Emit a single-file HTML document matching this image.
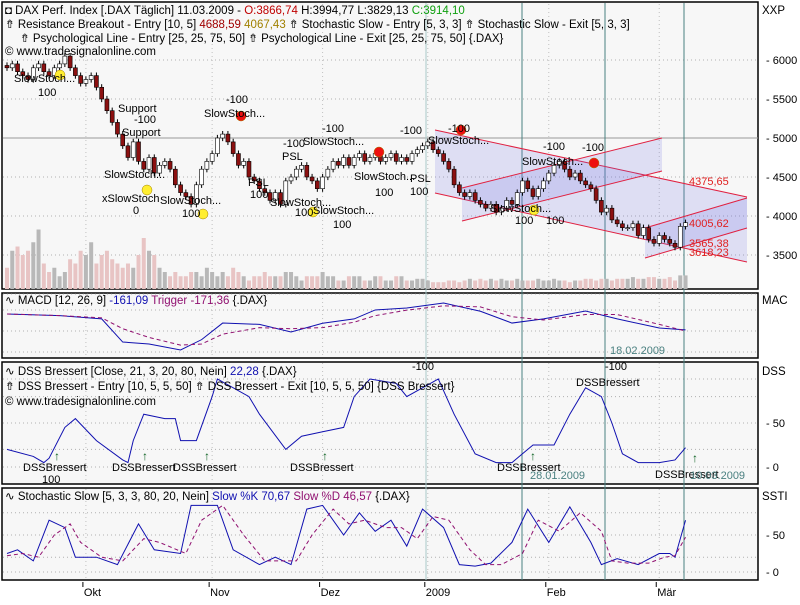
<!DOCTYPE html>
<html><head><meta charset="utf-8">
<style>
body{margin:0;background:#fff;font-family:"Liberation Sans",sans-serif;}
svg text{font-family:"Liberation Sans",sans-serif;}
</style></head>
<body>
<svg id="chart" width="800" height="600" viewBox="0 0 800 600" xmlns="http://www.w3.org/2000/svg">
<rect x="0" y="0" width="800" height="600" fill="#ffffff"/>
<g id="panels"></g>
<g id="content"></g>
</svg>
<script>
// ---- data ----
const closes=[5900,5950,5850,5800,5750,5900,5950,5850,5800,5900,5950,6050,5900,5800,5700,5750,5800,5650,5500,5350,
5200,5050,4900,4750,4950,4700,4600,4750,4550,4650,4700,4600,4400,4300,4250,4150,4400,4600,4700,4800,
5000,5050,4950,4800,4650,4700,4500,4450,4350,4300,4200,4300,4150,4450,4500,4600,4650,4500,4450,4350,
4500,4600,4700,4650,4750,4650,4750,4800,4700,4750,4800,4700,4750,4800,4700,4750,4700,4800,4850,4900,
4950,4850,4800,4700,4600,4400,4300,4250,4300,4200,4150,4100,4150,4050,4100,4200,4150,4300,4450,4350,
4250,4350,4450,4550,4650,4700,4600,4500,4550,4450,4400,4350,4200,4050,4100,3950,3900,3850,3850,3900,
3750,3850,3700,3650,3750,3700,3650,3600,3867,3914];
const volumes=[25,45,50,40,45,55,70,30,20,25,15,20,35,30,45,40,55,30,40,45,
35,30,25,30,25,40,60,45,40,25,20,15,20,15,15,20,20,15,25,20,
15,20,15,25,20,15,10,15,15,20,15,15,15,20,20,15,10,15,15,15,
20,15,15,10,10,15,15,15,10,10,15,15,10,10,15,15,10,10,12,12,
10,8,8,8,10,10,8,10,12,10,12,10,12,10,12,10,10,12,10,10,
10,12,10,10,12,10,10,8,10,10,12,12,10,12,12,10,12,12,12,14,
12,12,14,14,12,12,14,10,16,16];
const monthLabels=["Okt","Nov","Dez","2009","Feb","Mär"];
const monthDays=[15,39,60,80,103,124];
const priceTicks=[6000,5500,5000,4500,4000,3500];
const macdDays=[0,10,18,22,27,33,37,41,48,54,60,66,70,76,83,90,96,102,110,116,124,129];
const macdVals=[-15,-30,-60,-272,-290,-345,-250,-98,-110,-180,-100,-60,22,40,86,10,-98,-60,12,-60,-143,-161];
const macdVals2=[-15,-30,-50,-150,-230,-300,-290,-200,-140,-150,-140,-90,-30,20,60,50,-40,-70,-20,-20,-110,-171];
const dssDays=[0,5,7,8,11,13,17,22,23,24,26,30,32,33,36,39,40,46,48,53,56,60,64,66,69,74,76,79,82,85,89,93,96,98,100,104,107,110,113,115,117,120,122,124,127,129];
const dssVals=[20,12,5,10,45,55,30,8,5,30,60,55,55,30,30,80,100,80,60,20,35,40,45,80,100,95,80,90,100,60,15,5,5,15,25,25,60,90,80,50,15,5,5,5,8,22];
const sKDays=[0,2,5,8,11,13,17,21,25,28,33,35,40,43,48,51,54,57,60,64,67,70,73,76,79,83,86,89,92,96,99,103,107,111,113,116,120,124,126,127,129];
const sKVals=[25,30,15,70,60,20,20,10,65,30,25,90,90,30,10,20,10,85,90,50,80,55,70,35,85,60,10,8,12,40,85,40,88,40,10,18,10,25,25,20,70];
const sDDays=[0,3,6,9,12,14,18,22,26,29,34,37,41,45,49,52,55,58,62,65,68,72,75,78,81,84,88,91,94,98,101,105,109,113,115,118,122,125,127,129];
const sDVals=[22,25,20,50,65,40,20,15,45,40,25,70,90,50,15,15,15,50,85,65,70,60,60,45,75,70,30,10,10,25,70,55,80,55,15,12,12,20,22,47];

const NS="http://www.w3.org/2000/svg";
const cont=document.getElementById('content'), pan=document.getElementById('panels');
function mk(tag,attrs,parent,txt){const e=document.createElementNS(NS,tag);for(const k in attrs)e.setAttribute(k,attrs[k]);if(txt!==undefined)e.textContent=txt;(parent||cont).appendChild(e);return e;}
const X0=5,DX=5.26,R=758;
const xd=d=>X0+d*DX+2;
const yP=p=>138+(5000-p)*0.078;
const yV=v=>289-v*0.85;
const yM=v=>296+(150-v)*60/550;
const yD=v=>467-v*0.88;
const yS=v=>572-v*0.74;

const panelDefs=[[2,2,289,'price-panel'],[2,293,358,'macd-panel'],[2,362,484,'dss-panel'],[2,488,580,'stoch-panel']];
panelDefs.forEach(p=>{const r=mk('rect',{x:p[0],y:p[1],width:R-p[0],height:p[2]-p[1],fill:'#f7f7f7',stroke:'#000','stroke-width':1.5},pan);
});
function hgrid(y){mk('line',{x1:3,x2:R,y1:y,y2:y,stroke:'#b0b0b0','stroke-dasharray':'1,3'},pan);}
priceTicks.forEach(t=>{hgrid(yP(t));const tx=mk('text',{x:766,y:yP(t)+4,'font-size':11},cont,'- '+t);
});
mk('line',{x1:3,x2:R,y1:yP(5000),y2:yP(5000),stroke:'#999'},pan);
hgrid(yP(3500)+39);
[310,331,352].forEach(hgrid);
[0,50].forEach(v=>{const tx=mk('text',{x:766,y:yD(v)+4,'font-size':11},cont,'- '+v);});
[0,20,50,80,100].forEach(v=>hgrid(yD(v)));
[0,50].forEach(v=>{const tx=mk('text',{x:766,y:yS(v)+4,'font-size':11},cont,'- '+v);});
[0,20,50,80].forEach(v=>hgrid(yS(v)));
monthDays.forEach((d,i)=>{[[4,288],[294,357],[363,483],[489,579]].forEach(r=>mk('line',{x1:xd(d),x2:xd(d),y1:r[0],y2:r[1],stroke:'#c0c0c0','stroke-dasharray':'1,3'},pan));
mk('line',{x1:xd(d)-3,x2:xd(d)-3,y1:582,y2:587,stroke:'#000'});
const t=mk('text',{x:xd(d)-2,y:596,'font-size':11},cont,monthLabels[i]);});
[[426,'#a8c8c8'],[522,'#4a8080'],[605,'#4a8080'],[684,'#4a8080']].forEach(v=>{mk('line',{x1:v[0],x2:v[0],y1:3,y2:580,stroke:v[1]},pan);});

const chan=[[[435,130],[747,197],[747,262],[435,193]],[[462,188],[662,138],[662,171],[462,221]],[[645,228],[747,198],[747,228],[645,258]]];
chan.forEach(c=>{const pg=mk('polygon',{points:c.map(p=>p.join(',')).join(' '),fill:'rgba(110,110,230,0.18)'});
mk('line',{x1:c[0][0],y1:c[0][1],x2:c[1][0],y2:c[1][1],stroke:'#e02040'});mk('line',{x1:c[3][0],y1:c[3][1],x2:c[2][0],y2:c[2][1],stroke:'#e02040'});});
[['4375,65',689,185],['4005,62',689,227],['3565,38',689,247],['3618,23',689,256]].forEach(l=>{const t=mk('text',{x:l[1],y:l[2],'font-size':11,fill:'#e02020'},cont,l[0]);});

volumes.forEach((v,i)=>{const up=i>0&&closes[i]>=closes[i-1];const r=mk('rect',{x:xd(i)-2,y:yV(v),width:4,height:289-yV(v),fill:up?'#b8b8b8':'#e8c4c4'});
});
closes.forEach((c,i)=>{const o=i>0?closes[i-1]:c+30;const hi=Math.max(o,c)+40,lo=Math.min(o,c)-40;const x=xd(i);
mk('line',{x1:x,x2:x,y1:yP(hi),y2:yP(lo),stroke:'#000'});
const top=yP(Math.max(o,c)),h=Math.max(1,Math.abs(yP(o)-yP(c)));
const r=mk('rect',{x:x-2,y:top,width:4,height:h,fill:c>=o?'#fff':'#8b1010',stroke:'#000','stroke-width':0.6});
});

function poly(days,vals,yf,attrs,name){const pts=days.map((d,i)=>xd(d)+','+yf(vals[i])).join(' ');const p=mk('polyline',Object.assign({points:pts,fill:'none'},attrs));}
poly(macdDays,macdVals,yM,{stroke:'#1010b0','stroke-width':1},'macd-line');
poly(macdDays,macdVals2,yM,{stroke:'#901070','stroke-dasharray':'4,3'},'macd-trigger-line');
poly(dssDays,dssVals,yD,{stroke:'#1010b0'},'dss-line');
poly(sKDays,sKVals,yS,{stroke:'#1010b0'},'stoch-k-line');
poly(sDDays,sDVals,yS,{stroke:'#901070','stroke-dasharray':'4,3'},'stoch-d-line');

const ann=[[60,75,'#ffee30'],[147,190,'#ffee30'],[203,214,'#ffee30'],[241,116,'#ee1010'],[313,212,'#ffee30'],[379,152,'#ee1010'],[461,130,'#ee1010'],[534,210,'#ffee30'],[594,163,'#ee1010']];
ann.forEach(a=>{const c=mk('circle',{cx:a[0],cy:a[1],r:5,fill:a[2],stroke:'#a08000','stroke-width':0.5});});
const txt=[[14,82,'SlowStoch...'],[38,96,'100'],[118,112,'Support'],[134,123,'-100'],[122,136,'Support'],[104,178,'SlowStoch...'],[102,202,'xSlowStoch'],[133,214,'0'],[160,204,'SlowStoch...'],[182,217,'100'],[226,103,'-100'],[204,117,'SlowStoch...'],[248,186,'PSL'],[250,198,'100'],[283,147,'-100'],[282,160,'PSL'],[270,206,'SlowStoch...'],[295,216,'100'],[313,214,'SlowStoch...'],[333,228,'100'],[322,132,'-100'],[303,145,'SlowStoch...'],[354,180,'SlowStoch...'],[375,196,'100'],[400,134,'-100'],[410,182,'PSL'],[410,195,'100'],[448,132,'-100'],[428,144,'SlowStoch...'],[490,212,'SlowStoch...'],[515,224,'100'],[543,150,'-100'],[522,165,'SlowStoch...'],[582,151,'-100'],[546,224,'100']];
txt.forEach(t=>{const e=mk('text',{x:t[0],y:t[1],'font-size':11},cont,t[2]);});
const dtxt=[[23,471,'DSSBressert'],[42,483,'100'],[112,471,'DSSBressert'],[173,471,'DSSBressert'],[290,471,'DSSBressert'],[497,471,'DSSBressert'],[412,370,'-100'],[605,370,'-100'],[576,386,'DSSBressert'],[655,478,'DSSBressert']];
dtxt.forEach(t=>{const e=mk('text',{x:t[0],y:t[1],'font-size':11},cont,t[2]);});
[['28.01.2009',530,479],['18.02.2009',610,354],['10.03.2009',690,479]].forEach(t=>{const e=mk('text',{x:t[1],y:t[2],'font-size':11,fill:'#4a8080'},cont,t[0]);});
[[54,450],[142,450],[204,450],[322,450],[530,450],[692,452]].forEach(a=>{const e=mk('text',{x:a[0],y:a[1]+10,'font-size':12,fill:'#0a6020','font-weight':'bold'},cont,'↑');});

function hdr(x,y,parts,name){const t=mk('text',{x:x,y:y,'font-size':11.5},cont);parts.forEach(p=>{mk('tspan',{fill:p[1]||'#000'},t,p[0]);});}
hdr(5,14,[['◘ DAX Perf. Index [.DAX  Täglich] 11.03.2009 - '],['O:3866,74','#c00000'],[' H:3994,77 L:3829,13 '],['C:3914,10','#10a010']],'price-header');
hdr(5,28,[['⇮ Resistance Breakout - Entry [10, 5] '],['4688,59','#a00000'],[' '],['4067,43','#a08000'],['   ⇮ Stochastic Slow - Entry [5, 3, 3]   ⇮ Stochastic Slow - Exit [5, 3, 3]']],'signals-legend');
hdr(20,42,[['⇮ Psychological Line - Entry [25, 25, 75, 50]   ⇮ Psychological Line - Exit [25, 25, 75, 50] {.DAX}']],'psl-legend');
hdr(5,55,[['© www.tradesignalonline.com']],'copyright');
hdr(762,14,[['XXP']],'price-axis-title');
hdr(5,304,[['∿ MACD [12, 26, 9] '],['-161,09','#1010b0'],[' Trigger ','#901070'],['-171,36','#901070'],[' {.DAX}']],'macd-header');
hdr(762,304,[['MAC']],'macd-axis-title');
hdr(5,375,[['∿ DSS Bressert [Close, 21, 3, 20, 80, Nein] '],['22,28','#1010b0'],[' {.DAX}']],'dss-header');
hdr(5,390,[['⇮ DSS Bressert - Entry [10, 5, 5, 50]  ⇮ DSS Bressert - Exit [10, 5, 5, 50] {DSS Bressert}']],'dss-signal-legend');
hdr(5,405,[['© www.tradesignalonline.com']],'dss-copyright');
hdr(762,375,[['DSS']],'dss-axis-title');
hdr(5,500,[['∿ Stochastic Slow [5, 3, 3, 80, 20, Nein] '],['Slow %K 70,67','#1010b0'],[' Slow %D 46,57','#901070'],[' {.DAX}']],'stoch-header');
hdr(762,500,[['SSTI']],'stoch-axis-title');
</script>
</body></html>
